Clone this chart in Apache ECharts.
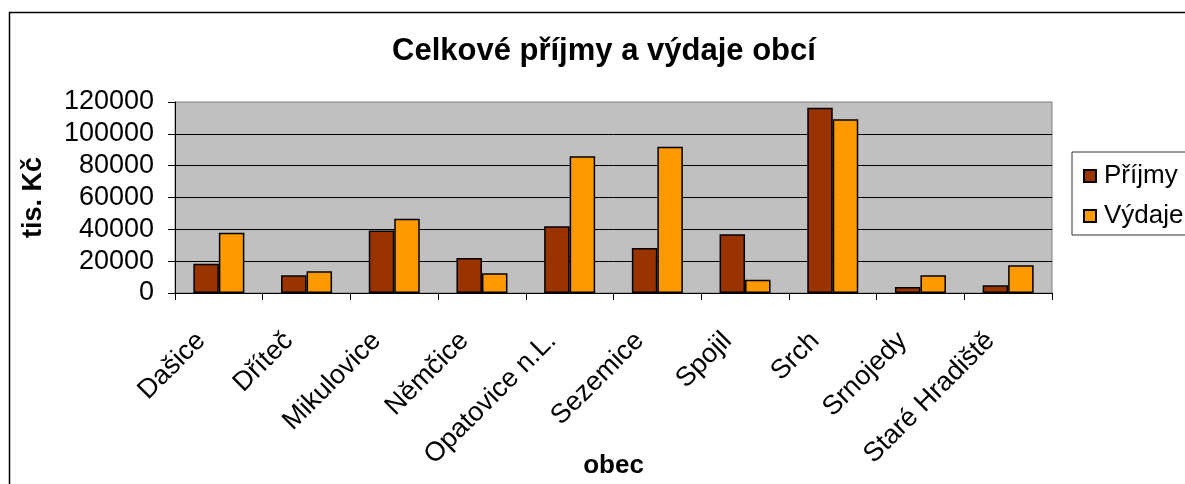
<!DOCTYPE html>
<html>
<head>
<meta charset="utf-8">
<title>Celkové příjmy a výdaje obcí</title>
<script src="https://cdn.jsdelivr.net/npm/echarts@6/dist/echarts.min.js"></script>
<style>
  html, body { margin: 0; padding: 0; background: #fff; }
  #chart { width: 1185px; height: 484px; }
</style>
</head>
<body>
<div id="chart"></div>
<script>
  // obce a hodnoty v tis. Kč
  const categories = ['Dašice', 'Dříteč', 'Mikulovice', 'Němčice', 'Opatovice n.L.', 'Sezemice', 'Spojil', 'Srch', 'Srnojedy', 'Staré Hradiště'];
  const prijmy = [18400, 11100, 39200, 22000, 41900, 28300, 36900, 116400, 3800, 4800];
  const vydaje = [37900, 13600, 46700, 12400, 85900, 91900, 8400, 109100, 11100, 17400];
  const yMin = 0;
  const yMax = 120000;
  const yStep = 20000;

  const font = "'Liberation Sans', Arial, sans-serif";

  const chart = echarts.init(document.getElementById('chart'), null, { renderer: 'canvas' });

  chart.setOption({
    animation: false,
    backgroundColor: '#ffffff',
    textStyle: { fontFamily: font, color: '#000' },
    title: {
      text: 'Celkové příjmy a výdaje obcí',
      left: 392,
      top: 36,
      padding: 0,
      textStyle: { fontFamily: font, fontSize: 31, fontWeight: 'bold', color: '#000' },
    },
    graphic: [
      {
        type: 'rect',
        shape: { x: 9.5, y: 12.5, width: 1300, height: 600 },
        style: { fill: 'none', stroke: '#000', lineWidth: 1.5 },
        silent: true,
      },
    ],
    legend: {
      orient: 'vertical',
      left: 1072,
      top: 152,
      padding: [11, 10, 6, 11],
      itemGap: 14,
      itemWidth: 12,
      itemHeight: 12,
      icon: 'rect',
      borderColor: '#333',
      borderWidth: 1,
      textStyle: { fontFamily: font, fontSize: 26, color: '#000', padding: [0, 0, 0, 3] },
      data: ['Příjmy', 'Výdaje'],
    },
    grid: {
      left: 175,
      right: 133,
      top: 102,
      bottom: 191,
      show: true,
      backgroundColor: '#C0C0C0',
      borderColor: '#808080',
      borderWidth: 1,
      containLabel: false,
      outerBoundsMode: 'none',
    },
    xAxis: {
      type: 'category',
      data: categories,
      name: 'obec',
      nameLocation: 'middle',
      nameGap: 160,
      nameMoveOverlap: false,
      nameTextStyle: { fontFamily: font, fontSize: 26, fontWeight: 'bold', color: '#000' },
      axisLine: { show: true, lineStyle: { color: '#000', width: 1 } },
      axisTick: { show: true, length: 7, lineStyle: { color: '#000' } },
      axisLabel: {
        rotate: 45,
        interval: 0,
        margin: 26,
        padding: [0, 25, 0, 0],
        fontFamily: font,
        fontSize: 27,
        color: '#000',
      },
      splitLine: { show: false },
    },
    yAxis: {
      type: 'value',
      min: yMin,
      max: yMax,
      interval: yStep,
      name: 'tis. Kč',
      nameLocation: 'middle',
      nameGap: 128,
      nameMoveOverlap: false,
      nameTextStyle: { fontFamily: font, fontSize: 27, fontWeight: 'bold', color: '#000' },
      axisLine: { show: true, lineStyle: { color: '#000', width: 1 } },
      axisTick: { show: true, length: 7, lineStyle: { color: '#000' } },
      axisLabel: {
        margin: 21,
        fontFamily: font,
        fontSize: 27,
        color: '#000',
        formatter: (v) => String(v),
      },
      splitLine: { show: true, showMaxLine: false, lineStyle: { color: '#000', width: 1 } },
    },
    series: [
      {
        name: 'Příjmy',
        type: 'bar',
        data: prijmy,
        barWidth: 25.5,
        barGap: '0%',
        itemStyle: { color: '#993300', borderColor: '#000', borderWidth: 1.5 },
      },
      {
        name: 'Výdaje',
        type: 'bar',
        data: vydaje,
        barWidth: 25.5,
        barGap: '0%',
        itemStyle: { color: '#FF9900', borderColor: '#000', borderWidth: 1.5 },
      },
    ],
  });
</script>
</body>
</html>
